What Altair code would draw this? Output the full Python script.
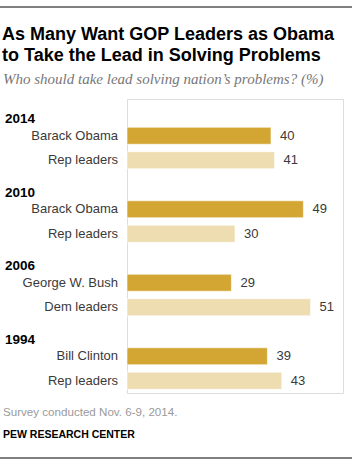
import altair as alt
import pandas as pd

years = ["2014", "2010", "2006", "1994"]
leaders = [["Barack Obama", "Rep leaders"],
           ["Barack Obama", "Rep leaders"],
           ["George W. Bush", "Dem leaders"],
           ["Bill Clinton", "Rep leaders"]]
values = [[40, 41], [49, 30], [29, 51], [39, 43]]
kinds = ["President", "Congressional leaders"]
colors = ["#D3A633", "#EDDDB0"]

title_lines = ["As Many Want GOP Leaders as Obama",
               "to Take the Lead in Solving Problems"]
subtitle = "Who should take lead solving nation\u2019s problems? (%)"
note = "Survey conducted Nov. 6-9, 2014."
source = "PEW RESEARCH CENTER"

rows = []
order = []
for yr, labs, vals in zip(years, leaders, values):
    hid = yr + "_h"
    order.append(hid)
    rows.append({"row": hid, "year": yr, "label": "", "value": None, "kind": None, "header": True})
    for i in range(2):
        rid = f"{yr}_{i}"
        order.append(rid)
        rows.append({"row": rid, "year": yr, "label": labs[i], "value": vals[i],
                     "kind": kinds[i], "header": False})
df = pd.DataFrame(rows)
bars_df = df[~df["header"]]
head_df = df[df["header"]]

L = 127  # left padding
T = 99   # top padding

yenc = alt.Y("row:N", sort=order,
             scale=alt.Scale(domain=order, paddingInner=0, paddingOuter=0),
             axis=None)
xscale = alt.Scale(domain=[0, 60])

base = alt.Chart(bars_df)

bars = base.mark_bar(size=17, stroke="#ffffff", strokeWidth=0.6).encode(
    y=yenc,
    x=alt.X("value:Q", scale=xscale, axis=None),
    color=alt.Color("kind:N", scale=alt.Scale(domain=kinds, range=colors), legend=None),
)

cat_labels = base.mark_text(align="right", baseline="middle", font="Liberation Sans",
                            fontSize=13, color="#3a3a3a").encode(
    y=yenc, x=alt.value(-9), text="label:N")

val_labels = base.mark_text(align="left", baseline="middle", dx=9, font="Liberation Sans",
                            fontSize=13, color="#3a3a3a").encode(
    y=yenc, x=alt.X("value:Q", scale=xscale), text="value:Q")

year_labels = alt.Chart(head_df).mark_text(align="left", baseline="alphabetic", dy=12,
                                           font="Liberation Sans", fontWeight="bold",
                                           fontSize=13.5, color="#000000").encode(
    y=yenc, x=alt.value(5 - L), text="year:N")

def txt(s, x, y, **kw):
    return alt.Chart(pd.DataFrame({"t": [s]})).mark_text(
        align="left", baseline="alphabetic", **kw).encode(
        x=alt.value(x - L), y=alt.value(y - T), text="t:N")

t1 = txt(title_lines[0], 2, 39.5, font="Liberation Sans", fontWeight="bold",
         fontSize=18, color="#000000")
t2 = txt(title_lines[1], 2, 60.5, font="Liberation Sans", fontWeight="bold",
         fontSize=18, color="#000000")
st = txt(subtitle, 3, 84, font="Liberation Serif", fontStyle="italic",
         fontSize=15, color="#777777")
nt = txt(note, 3, 416, font="Liberation Sans", fontSize=11.6, color="#9a9a9a")
src = txt(source, 3, 438, font="Liberation Sans", fontWeight="bold",
          fontSize=10.5, color="#000000")

def hline(y):
    return alt.Chart(pd.DataFrame({"a": [0]})).mark_rule(color="#000000", strokeWidth=1).encode(
        x=alt.value(0 - L), x2=alt.value(352 - L), y=alt.value(y - T))

chart = alt.layer(
    bars, cat_labels, val_labels, year_labels, t1, t2, st, nt, src, hline(7), hline(458)
).properties(
    width=216, height=294,
    padding={"left": L, "top": T, "right": 13, "bottom": 72},
    autosize=alt.AutoSizeParams(type="none"),
).configure_view(stroke=None).configure(background="#ffffff")

chart.save("out.html", embed_options={"renderer": "svg", "actions": False})
